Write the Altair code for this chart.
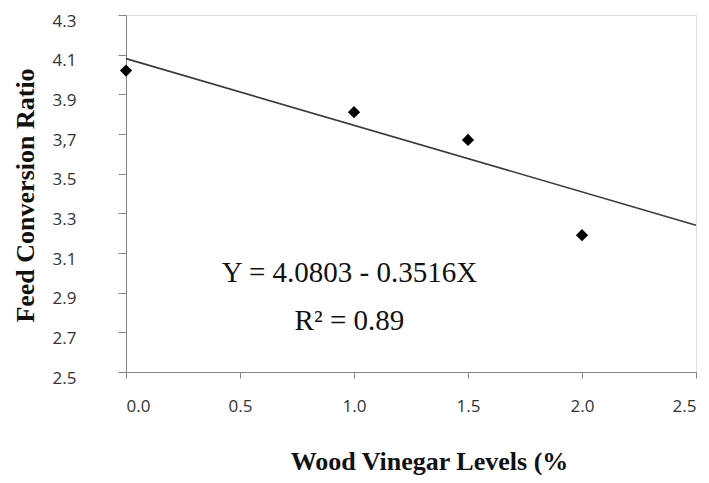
import altair as alt
import pandas as pd

# data
levels = [0.0, 1.0, 1.5, 2.0]
fcr = [4.02, 3.81, 3.67, 3.19]

trend_x = [0.0, 2.5]
trend_y = [4.08, 3.24]

eq_lines = ["Y = 4.0803  - 0.3516X", "R² = 0.89"]
eq_x = [0.98, 0.98]
eq_y = [3.00, 2.755]

x_ticks = [0.0, 0.5, 1.0, 1.5, 2.0, 2.5]
y_ticks = [2.5, 2.7, 2.9, 3.1, 3.3, 3.5, 3.7, 3.9, 4.1, 4.3]

pts = pd.DataFrame({"x": levels, "y": fcr})
trend = pd.DataFrame({"x": trend_x, "y": trend_y})
eq = pd.DataFrame({"t": eq_lines, "x": eq_x, "y": eq_y})

axis_col = "#868686"
lab_col = "#333333"

xscale = alt.Scale(domain=[0, 2.5], nice=False, zero=False)
yscale = alt.Scale(domain=[2.5, 4.3], nice=False, zero=False)

xaxis = alt.Axis(
    values=x_ticks, format=".1f", grid=False, labelOverlap=False,
    domainColor=axis_col, tickColor=axis_col, tickSize=6,
    labelFont="Open Sans", labelFontSize=17, labelColor=lab_col,
    labelPadding=20, labelFlush=True,
    title="Wood Vinegar Levels (%", titleFont="Liberation Serif",
    titleFontSize=26, titleFontWeight="bold", titleColor="#111111",
    titleX=303, titleY=89, titleBaseline="middle", titleAlign="center",
)
yaxis = alt.Axis(
    values=y_ticks, grid=False, labelOverlap=False,
    labelExpr="abs(datum.value - 3.7) < 0.001 ? '3,7' : format(datum.value, '.1f')",
    domainColor=axis_col, tickColor=axis_col, tickSize=8,
    labelFont="Open Sans", labelFontSize=17, labelColor=lab_col,
    labelPadding=42, labelOffset=6,
    title="Feed Conversion Ratio", titleFont="Liberation Serif",
    titleFontSize=26, titleFontWeight="bold", titleColor="#111111",
    titleX=-101, titleY=180, titleAngle=270, titleBaseline="middle",
    titleAlign="center",
)

X = alt.X("x:Q", scale=xscale, axis=xaxis)
Y = alt.Y("y:Q", scale=yscale, axis=yaxis)

line = alt.Chart(trend).mark_line(color="#3a3a3a", strokeWidth=1.6).encode(x=X, y=Y)
points = alt.Chart(pts).mark_point(
    shape="diamond", filled=True, color="#000000", size=150, opacity=1
).encode(x=X, y=Y)

text = alt.Chart(eq).mark_text(
    font="Liberation Serif", fontSize=29, color="#111111", align="center", baseline="middle"
).encode(x=X, y=Y, text="t:N")

chart = (
    alt.layer(line, points, text)
    .properties(
        width=570, height=357,
        padding={"left": 118, "top": 7, "right": 5, "bottom": 103},
        autosize=alt.AutoSizeParams(type="none"),
    )
    .configure_view(stroke=None)
    .configure(background="white")
)

chart.save("out.html", embed_options={"renderer": "svg", "actions": False})
